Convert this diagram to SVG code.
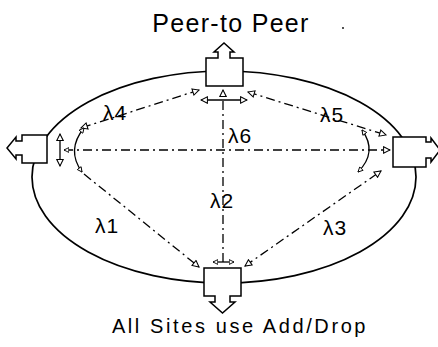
<svg xmlns="http://www.w3.org/2000/svg" width="438" height="347" viewBox="0 0 438 347">
  <defs>
    <!-- open triangular arrowhead used on every lightpath -->
    <marker id="tri" viewBox="0 0 10 10" refX="9" refY="5" markerWidth="9" markerHeight="8" markerUnits="userSpaceOnUse" orient="auto-start-reverse">
      <path d="M1,1 L9,5 L1,9 Z" fill="#fff" stroke="#000" stroke-width="1.3"/>
    </marker>
    <marker id="tri-s" viewBox="0 0 10 10" refX="9" refY="5" markerWidth="6" markerHeight="6" markerUnits="userSpaceOnUse" orient="auto-start-reverse">
      <path d="M1,1 L9,5 L1,9 Z" fill="#fff" stroke="#000" stroke-width="1.5"/>
    </marker>
    <style>
      .ring { fill: none; stroke: #000; stroke-width: 1.7; }
      .node { fill: #fff; stroke: #000; stroke-width: 1.5; stroke-linejoin: miter; }
      .path { fill: none; stroke: #000; stroke-width: 1.3; stroke-dasharray: 9 4 2 4; }
      .solid { fill: none; stroke: #000; stroke-width: 1.3; }
      .title { font-family: "Liberation Sans", Arial, sans-serif; fill: #000; text-anchor: middle; }
      .lam { font-family: "Liberation Sans", "DejaVu Sans", sans-serif; font-size: 21px; fill: #000; letter-spacing: 1px; }
    </style>
  </defs>

  <rect width="438" height="347" fill="#fff"/>

  <!-- titles -->
  <text class="title" x="231" y="32" font-size="25" letter-spacing="1.3">Peer-to Peer</text>
  <circle cx="343" cy="28" r="0.9" fill="#000"/>
  <text class="title" x="240" y="333" font-size="20" letter-spacing="2.6">All Sites use Add/Drop</text>

  <!-- fibre ring -->
  <ellipse class="ring" cx="224" cy="177" rx="192" ry="106"/>

  <!-- lightpaths -->
  <g id="connectors">
    <path class="path" d="M199,90 L81,128" marker-start="url(#tri)" marker-end="url(#tri)"/>
    <path class="path" d="M248,92 L386,135" marker-start="url(#tri)" marker-end="url(#tri)"/>
    <path class="path" d="M64,150 L390,150" marker-start="url(#tri-s)" marker-end="url(#tri)"/>
    <path class="path" d="M223,262 V90" marker-end="url(#tri)"/>
    <path class="path" d="M84,174 L199,267" marker-end="url(#tri)"/>
    <path class="path" d="M245,266 L381,171" marker-start="url(#tri)" marker-end="url(#tri)"/>
    <!-- through-node routing and local add/drop arrows -->
    <path class="solid" d="M201,100 H247" marker-start="url(#tri)" marker-end="url(#tri)"/>
    <path class="solid" d="M60,134 V166" marker-start="url(#tri)" marker-end="url(#tri)"/>
    <path class="solid" d="M84,128 Q66,150 82,172" marker-start="url(#tri-s)" marker-end="url(#tri-s)"/>
    <path class="solid" d="M362,130 Q378,152 358,172" marker-start="url(#tri-s)" marker-end="url(#tri-s)"/>
    <path class="solid" d="M213,262 H234" marker-start="url(#tri-s)" marker-end="url(#tri-s)"/>
  </g>

  <!-- wavelength labels -->
  <g id="labels">
    <text class="lam" x="103" y="120">λ4</text>
    <text class="lam" x="320" y="122">λ5</text>
    <text class="lam" x="228" y="143">λ6</text>
    <text class="lam" x="210" y="208">λ2</text>
    <text class="lam" x="95" y="233">λ1</text>
    <text class="lam" x="323" y="235">λ3</text>
  </g>

  <!-- add/drop sites -->
  <g id="node-top">
    <path class="node" d="M206,58 H218 V52 H214 L224,43 L234,52 H230 V58 H243 V86 H206 Z"/>
  </g>
  <g id="node-left">
    <path class="node" d="M22,135 H47 V163 H22 V155 H16 V159 L7,148 L16,137 V141 H22 Z"/>
  </g>
  <g id="node-right">
    <path class="node" d="M393,137 H426 V142 H431 V138 L440,150 L431,162 V158 H426 V167 H393 Z"/>
  </g>
  <g id="node-bottom">
    <path class="node" d="M204,268 H241 V296 H230 V302 H235 L222.5,313 L210,302 H215 V296 H204 Z"/>
  </g>
</svg>
